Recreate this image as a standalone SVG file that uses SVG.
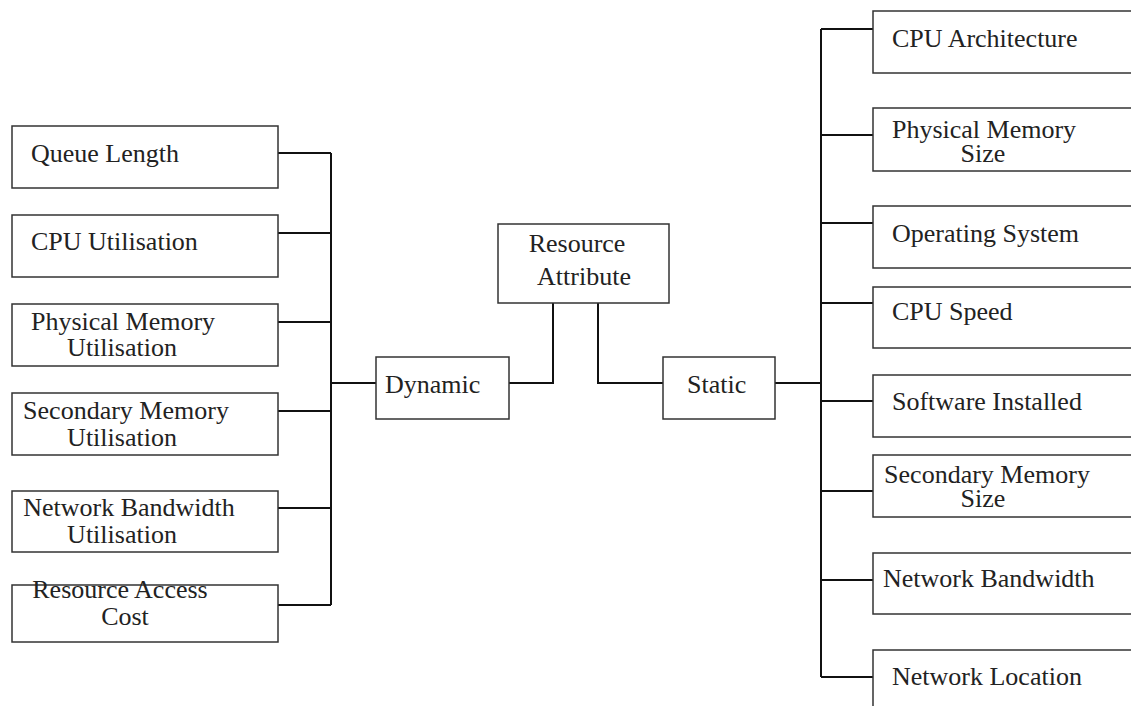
<svg xmlns="http://www.w3.org/2000/svg" width="1131" height="706" viewBox="0 0 1131 706">
  <style>
    .box { fill: #ffffff; stroke: #333333; stroke-width: 1.5; }
    .lbl { font-family: "Liberation Serif", "Times New Roman", serif; font-size: 26px; fill: #222222; }
    .mid { text-anchor: middle; }
    .wire { fill: none; stroke: #111111; stroke-width: 2; }
  </style>
  <rect width="1131" height="706" fill="#ffffff"/>

  <!-- tree connectors -->
  <g id="connectors" class="wire">
    <!-- dynamic side bus -->
    <path d="M331 153 V605"/>
    <path d="M278 153 H331 M278 233 H331 M278 322 H331 M278 411 H331 M278 508 H331 M278 605 H331"/>
    <path d="M331 383 H376"/>
    <!-- root links -->
    <path d="M509 383 H553 V303"/>
    <path d="M598 303 V383 H663"/>
    <!-- static side bus -->
    <path d="M775 383 H821"/>
    <path d="M821 29 V677"/>
    <path d="M821 29 H873 M821 135 H873 M821 223 H873 M821 303 H873 M821 401 H873 M821 491 H873 M821 580 H873 M821 677 H873"/>
  </g>

  <!-- root -->
  <g id="resource-attribute">
    <rect class="box" x="498" y="224" width="171" height="79"/>
    <text class="lbl mid" x="577" y="252">Resource</text>
    <text class="lbl mid" x="584" y="285">Attribute</text>
  </g>
  <g id="dynamic">
    <rect class="box" x="376" y="357" width="133" height="62"/>
    <text class="lbl" x="385" y="393">Dynamic</text>
  </g>
  <g id="static">
    <rect class="box" x="663" y="357" width="112" height="62"/>
    <text class="lbl" x="687" y="393">Static</text>
  </g>

  <!-- dynamic attributes -->
  <g id="queue-length">
    <rect class="box" x="12" y="126" width="266" height="62"/>
    <text class="lbl" x="31" y="162">Queue Length</text>
  </g>
  <g id="cpu-utilisation">
    <rect class="box" x="12" y="215" width="266" height="62"/>
    <text class="lbl" x="31" y="250">CPU Utilisation</text>
  </g>
  <g id="physical-memory-utilisation">
    <rect class="box" x="12" y="304" width="266" height="62"/>
    <text class="lbl mid" x="123" y="330">Physical Memory</text>
    <text class="lbl mid" x="122" y="356">Utilisation</text>
  </g>
  <g id="secondary-memory-utilisation">
    <rect class="box" x="12" y="393" width="266" height="62"/>
    <text class="lbl mid" x="126" y="419">Secondary Memory</text>
    <text class="lbl mid" x="122" y="446">Utilisation</text>
  </g>
  <g id="network-bandwidth-utilisation">
    <rect class="box" x="12" y="491" width="266" height="61"/>
    <text class="lbl mid" x="129" y="516">Network Bandwidth</text>
    <text class="lbl mid" x="122" y="543">Utilisation</text>
  </g>
  <g id="resource-access-cost">
    <rect class="box" x="12" y="585" width="266" height="57"/>
    <text class="lbl mid" x="120" y="598">Resource Access</text>
    <text class="lbl mid" x="125" y="625">Cost</text>
  </g>

  <!-- static attributes -->
  <g id="cpu-architecture">
    <rect class="box" x="873" y="11" width="270" height="62"/>
    <text class="lbl" x="892" y="47">CPU Architecture</text>
  </g>
  <g id="physical-memory-size">
    <rect class="box" x="873" y="108" width="270" height="63"/>
    <text class="lbl mid" x="984" y="138">Physical Memory</text>
    <text class="lbl mid" x="983" y="162">Size</text>
  </g>
  <g id="operating-system">
    <rect class="box" x="873" y="206" width="270" height="62"/>
    <text class="lbl" x="892" y="242">Operating System</text>
  </g>
  <g id="cpu-speed">
    <rect class="box" x="873" y="287" width="270" height="61"/>
    <text class="lbl" x="892" y="320">CPU Speed</text>
  </g>
  <g id="software-installed">
    <rect class="box" x="873" y="375" width="270" height="62"/>
    <text class="lbl" x="892" y="410">Software Installed</text>
  </g>
  <g id="secondary-memory-size">
    <rect class="box" x="873" y="455" width="270" height="62"/>
    <text class="lbl mid" x="987" y="483">Secondary Memory</text>
    <text class="lbl mid" x="983" y="507">Size</text>
  </g>
  <g id="network-bandwidth">
    <rect class="box" x="873" y="553" width="270" height="61"/>
    <text class="lbl" x="883" y="587">Network Bandwidth</text>
  </g>
  <g id="network-location">
    <rect class="box" x="873" y="650" width="270" height="80"/>
    <text class="lbl" x="892" y="685">Network Location</text>
  </g>
</svg>
